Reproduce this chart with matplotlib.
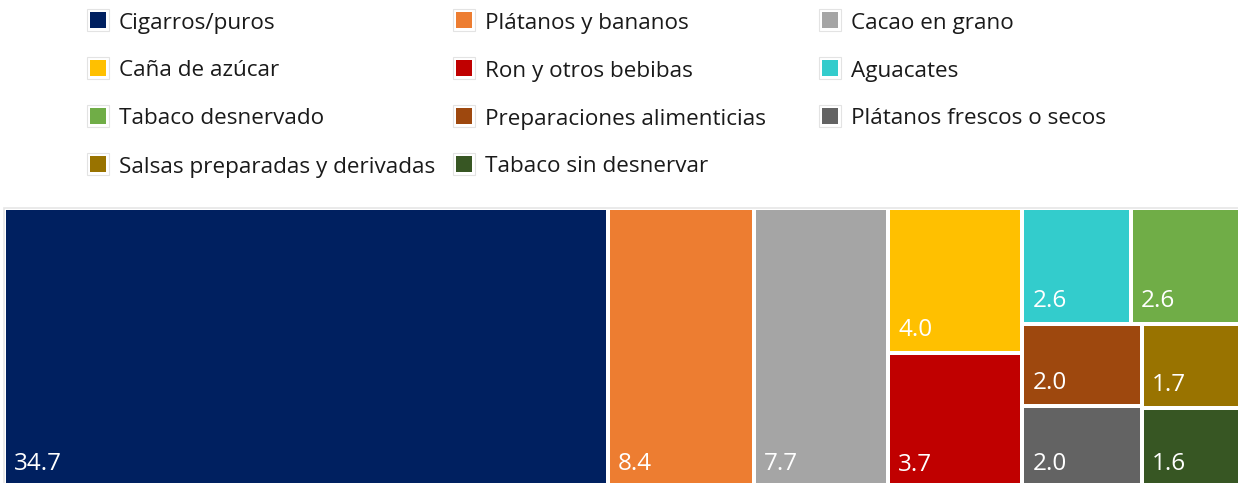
import matplotlib
matplotlib.use("Agg")
import matplotlib.pyplot as plt
from matplotlib.patches import Rectangle

categories = ["Cigarros/puros", "Plátanos y bananos", "Cacao en grano",
              "Caña de azúcar", "Ron y otros bebibas", "Aguacates",
              "Tabaco desnervado", "Preparaciones alimenticias",
              "Plátanos frescos o secos", "Salsas preparadas y derivadas",
              "Tabaco sin desnervar"]
values = [34.7, 8.4, 7.7, 4.0, 3.7, 2.6, 2.6, 2.0, 2.0, 1.7, 1.6]
colors = ["#002060", "#ED7D31", "#A5A5A5", "#FFC000", "#C00000", "#33CCCC",
          "#70AD47", "#9E480E", "#636363", "#997300", "#375623"]

FONT = ["Open Sans", "DejaVu Sans"]
W_PX, H_PX = 1238, 483
fig = plt.figure(figsize=(W_PX / 100, H_PX / 100), dpi=100)


def worst(row, side):
    s = sum(row)
    return max(max(side * side * r / (s * s), (s * s) / (side * side * r)) for r in row)


def squarify(vals, x, y, dx, dy):
    total = sum(vals)
    areas = [v * dx * dy / total for v in vals]
    rects = []
    i = 0
    while i < len(areas):
        side = min(dx, dy)
        row = [areas[i]]
        j = i + 1
        while j < len(areas) and worst(row + [areas[j]], side) <= worst(row, side):
            row.append(areas[j])
            j += 1
        s = sum(row)
        if dx >= dy:
            w = s / dy
            yy = y
            for a in row:
                h = a / w
                rects.append((x, yy, w, h))
                yy += h
            x += w
            dx -= w
        else:
            h = s / dx
            xx = x
            for a in row:
                w = a / h
                rects.append((xx, y, w, h))
                xx += w
            y += h
            dy -= h
        i = j
    return rects


# plot area in pixels
left, top, right, bottom = 4.0, 207.5, 1240.0, 487.5
ax = fig.add_axes([left / W_PX, (H_PX - bottom) / H_PX,
                   (right - left) / W_PX, (bottom - top) / H_PX])
PW, PH = right - left, bottom - top
ax.set_xlim(0, PW)
ax.set_ylim(PH, 0)
ax.axis("off")
ax.add_patch(Rectangle((0, 0), PW, PH, facecolor="white", edgecolor="#E6E6E6",
                       linewidth=1.2, clip_on=False))

gap = 2.0
for (x, y, w, h), v, c in zip(squarify(values, 0, 0, PW, PH), values, colors):
    ax.add_patch(Rectangle((x + gap, y + gap), w - 2 * gap, h - 2 * gap,
                           facecolor=c, edgecolor="none"))
    ax.text(x + gap + 8, y + h - gap - 15, f"{v:.1f}", color="white",
            fontsize=17.5, family=FONT, ha="left", va="baseline")

# legend
col_x = [90, 456, 822]
row_y0, row_dy = 20, 48
for k, (cat, c) in enumerate(zip(categories, colors)):
    r, col = divmod(k, 3)
    sx = col_x[col]
    cy = row_y0 + r * row_dy
    fig.patches.append(Rectangle((sx - 3, H_PX - cy - 11), 22, 22, transform=None,
                                 facecolor="white", edgecolor="#E3E3E3", linewidth=0.8))
    fig.patches.append(Rectangle((sx, H_PX - cy - 8), 16, 16, transform=None,
                                 facecolor=c, edgecolor="none"))
    fig.text((sx + 29) / W_PX, (H_PX - cy - 3) / H_PX, cat, color="#1A1A1A",
             fontsize=16.2, family=FONT, ha="left", va="center")

fig.savefig("out.png", dpi=100)
